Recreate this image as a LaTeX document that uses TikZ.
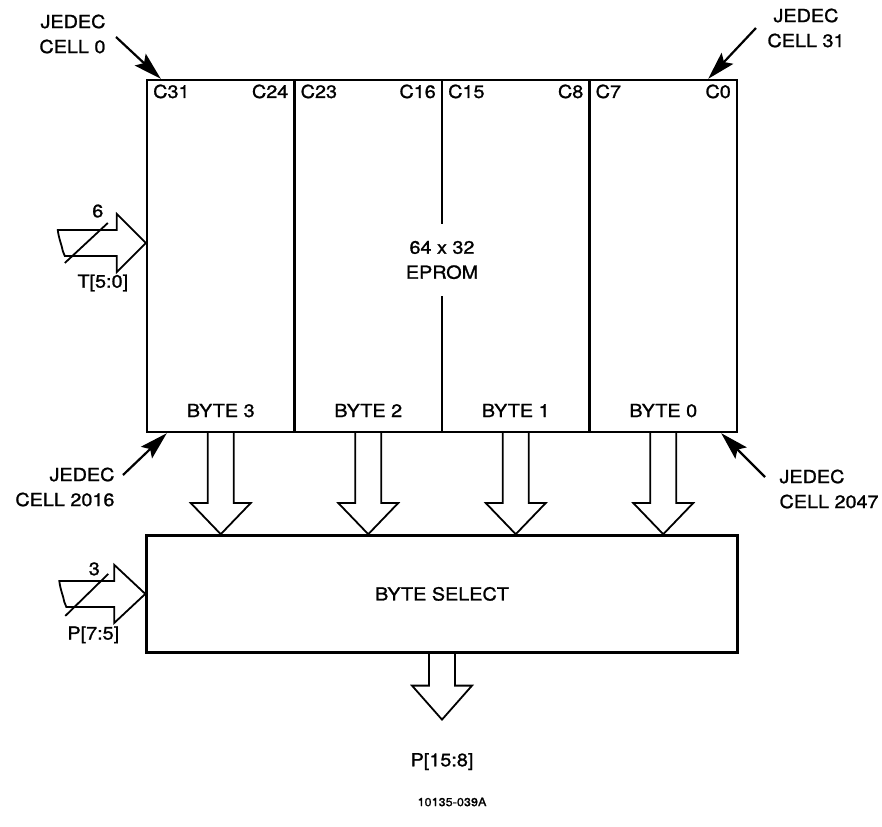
\documentclass[tikz,border=0pt]{standalone}
\usepackage{fontspec}
\setmainfont{TeX Gyre Heros}[FakeStretch=1.1, FakeBold=1.2]
\usetikzlibrary{arrows.meta, positioning, fit}

\begin{document}
\begin{tikzpicture}[
    x=1pt, y=-1pt,
    every node/.style={font=\fontsize{18}{25}\selectfont},
    col/.style={minimum width=147.5pt, minimum height=352pt, inner sep=0pt, outer sep=0pt},
    box/.style={draw, line width=2.4pt},
    bus/.style={draw, line width=1.8pt, line join=miter},
    ptr/.style={draw, line width=2.2pt, -{Stealth[length=28pt, width=16pt, inset=5pt]}},
    small/.style={font=\fontsize{11.5}{13}\selectfont}
]
    \useasboundingbox (0,0) rectangle (882,826);

    % EPROM columns
    \node[col, anchor=north west] (col3) at (147,80) {};
    \node[col, right=0pt of col3] (col2) {};
    \node[col, right=0pt of col2] (col1) {};
    \node[col, right=0pt of col1] (col0) {};
    \node[box, fit=(col3)(col0), inner sep=0pt] (eprom) {};
    \draw[line width=2.2pt] (col3.north east) -- (col3.south east);
    \draw[line width=2.2pt] (col2.north east) -- (col2.south east);
    \draw[line width=2.2pt] (col1.north east) -- (col1.south east);
    \node[fill=white, align=center, inner ysep=17pt, inner xsep=2pt] (core) at ([yshift=-4pt]eprom.center) {64 x 32\\EPROM};

    % Column and byte labels
    \foreach \c/\l/\r in {3/C31/C24, 2/C23/C16, 1/C15/C8, 0/C7/C0} {
        \node[anchor=base west, inner sep=0pt] (hi\c) at ([xshift=6pt, yshift=-18pt]col\c.north west) {\l};
        \node[anchor=base east, inner sep=0pt] (lo\c) at ([xshift=-6pt, yshift=-18pt]col\c.north east) {\r};
        \node[anchor=base, inner sep=0pt] (byte\c) at ([yshift=15pt]col\c.south) {BYTE \c};
    }

    % Byte select
    \node[box, minimum width=591pt, minimum height=117pt, below=101pt of eprom] (sel) {BYTE SELECT};

    % Buses into byte select
    \foreach \c in {3,2,1,0}
        \draw[bus] ([xshift=-13pt]col\c.south) -- ([xshift=-13pt, yshift=-71pt]col\c.south)
            -- ([xshift=-30pt, yshift=-71pt]col\c.south) -- (sel.north -| col\c.south)
            -- ([xshift=30pt, yshift=-71pt]col\c.south) -- ([xshift=13pt, yshift=-71pt]col\c.south)
            -- ([xshift=13pt]col\c.south);

    % Output bus
    \coordinate (out) at ([yshift=-66pt]sel.south);
    \draw[bus] ([xshift=-13pt]sel.south) -- ([xshift=-13pt, yshift=-32pt]sel.south)
        -- ([xshift=-30pt, yshift=-32pt]sel.south) -- (out)
        -- ([xshift=30pt, yshift=-32pt]sel.south) -- ([xshift=13pt, yshift=-32pt]sel.south)
        -- ([xshift=13pt]sel.south);
    \node[below=30pt of out] (pout) {P[15:8]};

    % T input
    \coordinate (tin) at ([yshift=13pt]eprom.west);
    \draw[bus] (tin) -- ([xshift=-29pt, yshift=29pt]tin) -- ([xshift=-29pt, yshift=13pt]tin)
        -- ([xshift=-88pt, yshift=13pt]tin)
        .. controls ([xshift=-87pt, yshift=4pt]tin) and ([xshift=-84pt, yshift=-2pt]tin) .. ([xshift=-83pt, yshift=-8pt]tin)
        -- ([xshift=-81pt, yshift=-13pt]tin)
        -- ([xshift=-29pt, yshift=-13pt]tin) -- ([xshift=-29pt, yshift=-29pt]tin) -- cycle;
    \draw[line width=1.8pt] ([xshift=-81pt, yshift=-20pt]tin) -- ([xshift=-38pt, yshift=20pt]tin);
    \node (tw) at ([xshift=-48pt, yshift=32pt]tin) {6};
    \node (tname) at ([xshift=-43pt, yshift=-40pt]tin) {T[5:0]};

    % P input
    \coordinate (pin) at (sel.west);
    \draw[bus] (pin) -- ([xshift=-31pt, yshift=29pt]pin) -- ([xshift=-31pt, yshift=13pt]pin)
        -- ([xshift=-86pt, yshift=13pt]pin)
        .. controls ([xshift=-85pt, yshift=4pt]pin) and ([xshift=-82pt, yshift=-2pt]pin) .. ([xshift=-81pt, yshift=-8pt]pin)
        -- ([xshift=-79pt, yshift=-13pt]pin)
        -- ([xshift=-31pt, yshift=-13pt]pin) -- ([xshift=-31pt, yshift=-29pt]pin) -- cycle;
    \draw[line width=1.8pt] ([xshift=-80pt, yshift=-22pt]pin) -- ([xshift=-37pt, yshift=20pt]pin);
    \node (pw) at ([xshift=-51pt, yshift=25pt]pin) {3};
    \node (pname) at ([xshift=-52pt, yshift=-41pt]pin) {P[7:5]};

    % JEDEC cells
    \node[align=right, anchor=east] (j0) at (109,34) {JEDEC\\CELL 0};
    \node[align=center] (j31) at (806,28) {JEDEC\\CELL 31};
    \node[align=right, anchor=east] (j2016) at (118,487) {JEDEC\\CELL 2016};
    \node[align=left, anchor=west] (j2047) at (776,489) {JEDEC\\CELL 2047};
    \draw[ptr] ([xshift=7pt, yshift=-3pt]j0.east) -- ([xshift=15pt]eprom.north west);
    \draw[ptr] ([xshift=-8pt]j31.west) -- ([xshift=-30pt]eprom.north east);
    \draw[ptr] ([xshift=5pt, yshift=12pt]j2016.east) -- ([xshift=21pt]eprom.south west);
    \draw[ptr] ([xshift=-11pt, yshift=12pt]j2047.west) -- ([xshift=-17pt]eprom.south east);

    \node[small] (fig) at (452,802) {10135-039A};
\end{tikzpicture}
\end{document}
